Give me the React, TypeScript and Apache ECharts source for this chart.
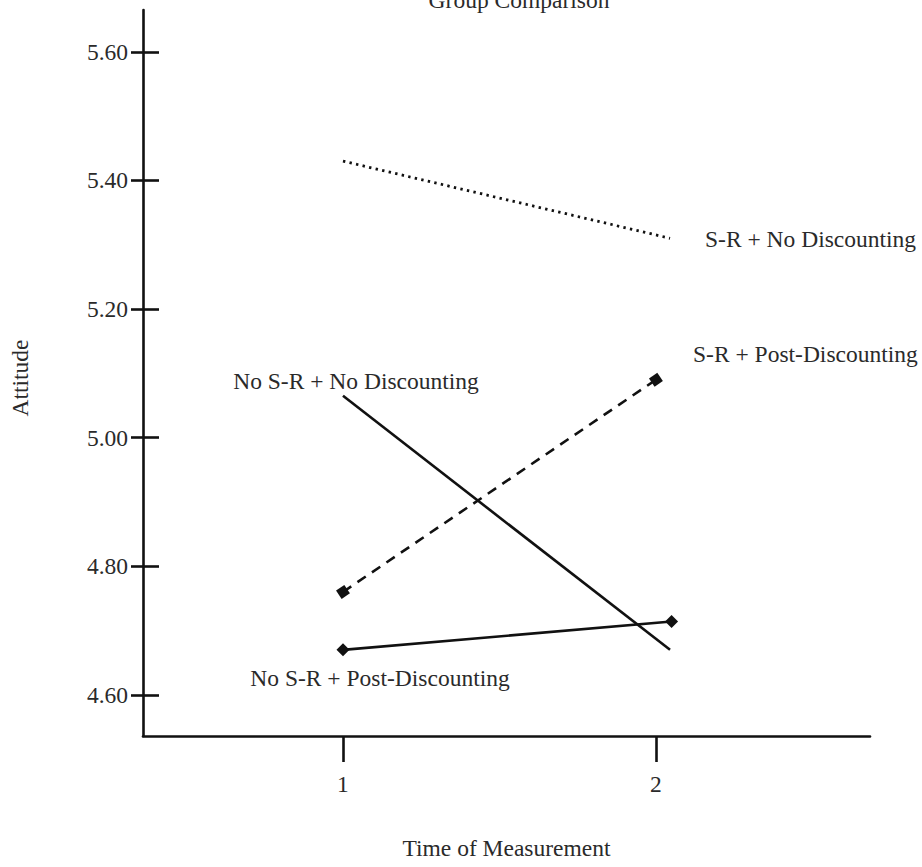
import React, { useEffect, useRef } from "react";
import * as echarts from "echarts";

// ---- data ----
const yTickValues = [4.6, 4.8, 5.0, 5.2, 5.4, 5.6];
const xTickValues = [1, 2];

const srNoDiscX = [1, 2.045];
const srNoDiscY = [5.43, 5.31];

const srPostDiscX = [1, 2];
const srPostDiscY = [4.76, 5.09];

const noSrNoDiscX = [1, 2.045];
const noSrNoDiscY = [5.065, 4.67];

const noSrPostDiscX = [1, 2.05];
const noSrPostDiscY = [4.67, 4.714];

const seriesNames = [
  "S-R + No Discounting",
  "S-R + Post-Discounting",
  "No S-R + No Discounting",
  "No S-R + Post-Discounting",
];

const FONT = "'Liberation Serif', 'Times New Roman', serif";
const FS = 23.5;
const INK = "#111";
const TXT = "#2a2a2a";

function pairs(xs: number[], ys: number[]) {
  return xs.map((x, i) => [x, ys[i]]);
}

export default function App() {
  const ref = useRef<HTMLDivElement>(null);
  useEffect(() => {
    if (!ref.current) return;
    const chart = echarts.init(ref.current, null, { renderer: "svg" });
    const yMin = 4.536;
    const yMax = 5.665;
    const option: any = {
      animation: false,
      backgroundColor: "#fff",
      grid: { left: 143, right: 52, top: 10, bottom: 131, containLabel: false, outerBoundsMode: "none" },
      xAxis: {
        type: "value",
        min: 0.361,
        max: 2.684,
        splitLine: { show: false },
        axisLine: { show: true, onZero: false, lineStyle: { color: INK, width: 2.6 } },
        axisTick: { show: true, length: 26, customValues: xTickValues, lineStyle: { color: INK, width: 2.6 } },
        axisLabel: {
          customValues: xTickValues,
          margin: 36,
          color: TXT,
          fontFamily: FONT,
          fontSize: FS,
          formatter: (v: number) => String(Math.round(v)),
        },
        name: "Time of Measurement",
        nameLocation: "middle",
        nameGap: 100,
        nameTextStyle: { color: TXT, fontFamily: FONT, fontSize: FS },
      },
      yAxis: [
        {
          type: "value",
          min: yMin,
          max: yMax,
          splitLine: { show: false },
          axisLine: { show: true, onZero: false, lineStyle: { color: INK, width: 2.6 } },
          axisTick: { show: true, length: 12, customValues: yTickValues, lineStyle: { color: INK, width: 2.6 } },
          axisLabel: {
            customValues: yTickValues,
            margin: 15,
            color: TXT,
            fontFamily: FONT,
            fontSize: FS,
            formatter: (v: number) => v.toFixed(2),
          },
        },
        {
          type: "value",
          position: "left",
          min: yMin,
          max: yMax,
          splitLine: { show: false },
          axisLine: { show: false },
          axisTick: { show: true, inside: true, length: 16, customValues: yTickValues, lineStyle: { color: INK, width: 2.6 } },
          axisLabel: { show: false },
        },
      ],
      series: [
        {
          name: seriesNames[0],
          type: "line",
          data: pairs(srNoDiscX, srNoDiscY),
          showSymbol: false,
          symbol: "none",
          lineStyle: { color: INK, width: 2.8, type: [2.4, 4.3] },
        },
        {
          name: seriesNames[1],
          type: "line",
          data: pairs(srPostDiscX, srPostDiscY),
          symbol: "rect",
          symbolSize: 10,
          symbolRotate: 34,
          itemStyle: { color: INK },
          lineStyle: { color: INK, width: 2.6, type: [10, 7.5] },
        },
        {
          name: seriesNames[2],
          type: "line",
          data: pairs(noSrNoDiscX, noSrNoDiscY),
          symbol: "none",
          lineStyle: { color: INK, width: 2.6 },
        },
        {
          name: seriesNames[3],
          type: "line",
          data: pairs(noSrPostDiscX, noSrPostDiscY),
          symbol: "diamond",
          symbolSize: 13,
          itemStyle: { color: INK },
          lineStyle: { color: INK, width: 2.6 },
        },
      ],
      graphic: [
        {
          type: "text",
          x: 519,
          y: 0,
          style: { text: "Group Comparison", fill: TXT, font: `${FS}px ${FONT}`, align: "center", verticalAlign: "middle" },
        },
        {
          type: "text",
          x: 20,
          y: 378,
          rotation: Math.PI / 2,
          style: { text: "Attitude", fill: TXT, font: `${FS}px ${FONT}`, align: "center", verticalAlign: "middle" },
        },
        {
          type: "text",
          x: 705,
          y: 239,
          style: { text: seriesNames[0], fill: TXT, font: `${FS}px ${FONT}`, align: "left", verticalAlign: "middle" },
        },
        {
          type: "text",
          x: 693,
          y: 354,
          style: { text: seriesNames[1], fill: TXT, font: `${FS}px ${FONT}`, align: "left", verticalAlign: "middle" },
        },
        {
          type: "text",
          x: 356,
          y: 381,
          style: { text: seriesNames[2], fill: TXT, font: `${FS}px ${FONT}`, align: "center", verticalAlign: "middle" },
        },
        {
          type: "text",
          x: 380,
          y: 678,
          style: { text: seriesNames[3], fill: TXT, font: `${FS}px ${FONT}`, align: "center", verticalAlign: "middle" },
        },
      ],
    };
    chart.setOption(option);
    return () => chart.dispose();
  }, []);
  return (
    <div
      ref={ref}
      style={{ position: "fixed", left: 0, top: 0, width: 922, height: 867, background: "#fff" }}
    />
  );
}
